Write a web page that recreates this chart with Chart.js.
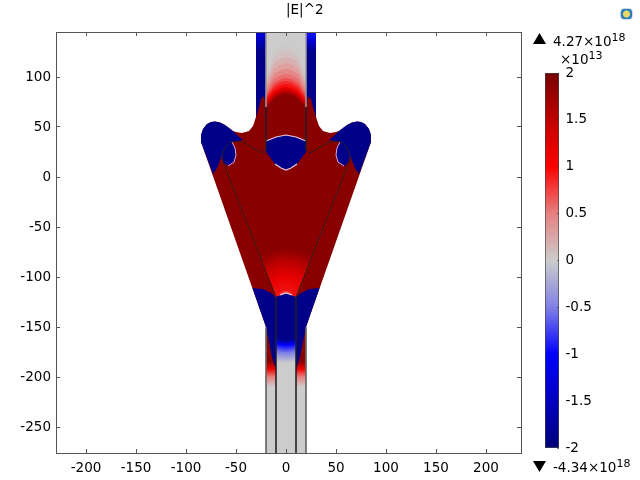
<!DOCTYPE html>
<html>
<head>
<meta charset="utf-8">
<script src="https://cdn.jsdelivr.net/npm/chart.js@4"></script>
<style>
  html, body { margin: 0; padding: 0; background: #fff; overflow: hidden; }
  body { width: 640px; height: 480px; position: relative; font-family: 'DejaVu Sans', sans-serif; font-size: 13.5px; color: #000; }
  canvas { position: absolute; }
  .txt { position: absolute; white-space: nowrap; line-height: 16px; }
  .txt sup { font-size: 11px; line-height: 0; vertical-align: 5px; }
  .tri { position: absolute; width: 13px; height: 11px; background: #000; }
  #icon { position: absolute; left: 620px; top: 8px; width: 13px; height: 12px; border-radius: 4px; border: 1px solid #cfd8e4; box-sizing: border-box;
          background: radial-gradient(circle at 50% 50%, #e6d860 0 3px, #2f86c6 4px, #1a5f9e 7px); }
</style>
</head>
<body>
<canvas id="field" width="640" height="480" style="left:0;top:0"></canvas>
<canvas id="bar" width="115" height="420" style="left:525px;top:50px"></canvas>
<div class="txt" style="left:286px;top:1px">|E|^2</div>
<div class="tri" style="left:533px;top:33px;clip-path:polygon(50% 0,100% 100%,0 100%)"></div>
<div class="txt" style="left:553px;top:33px">4.27×10<sup>18</sup></div>
<div class="txt" style="left:560px;top:51px">×10<sup>13</sup></div>
<div class="tri" style="left:533px;top:461px;clip-path:polygon(0 0,100% 0,50% 100%)"></div>
<div class="txt" style="left:553px;top:459px">-4.34×10<sup>18</sup></div>
<div id="icon"></div>
<script>
const xTicks = [-200, -150, -100, -50, 0, 50, 100, 150, 200];
const yTicks = [100, 50, 0, -50, -100, -150, -200, -250];
const barTicks = [2, 1.5, 1, 0.5, 0, -0.5, -1, -1.5, -2];
const barRange = [-2, 2];

// region outlines, [x, y] in plot units
const topStripL = [[-30, 145], [-20, 145], [-20, 50], [-30, 50]];
const topStripR = [[20, 145], [30, 145], [30, 50], [20, 50]];
const topChannel = [[-20, 145], [20, 145], [20, 45], [-20, 45]];
const body = [[-20, 45], [-20, 70], [-22, 81], [-25, 78], [-27, 70], [-30, 60], [-33, 51], [-37, 46], [-44, 44], [-50, 45],
  [-53, 46], [-61, 52], [-66, 54.5], [-71, 55.5], [-75, 55], [-79, 53], [-83, 48], [-85, 42], [-85, 35], [-20, -150], [20, -150], [85, 35], [85, 42],
  [83, 48], [79, 53], [75, 55], [71, 55.5], [66, 54.5], [61, 52], [53, 46], [50, 45], [44, 44], [37, 46], [33, 51], [30, 60], [27, 70], [25, 78], [22, 81], [20, 70], [20, 45]];
const funnelGlow = [[-31, -65], [31, -65], [10, -120], [0, -116], [-10, -120]];
const lobeL = [[-85, 35], [-85, 42], [-83, 48], [-79, 53], [-75, 55], [-71, 55.5], [-66, 54.5], [-61, 52], [-53, 46], [-48, 41], [-43, 37],
  [-51, 35.5], [-56, 35], [-60, 31], [-63, 25], [-65, 19], [-69, 9], [-73, 3]];
const lobeR = [[85, 35], [85, 42], [83, 48], [79, 53], [75, 55], [71, 55.5], [66, 54.5], [61, 52], [53, 46], [48, 41], [43, 37],
  [51, 35.5], [56, 35], [60, 31], [63, 25], [65, 19], [69, 9], [73, 3]];
const kidneyL = [[-54, 35], [-51, 29], [-50, 22], [-52, 15], [-58, 11], [-62, 14], [-64, 19], [-63, 25], [-60, 31], [-56, 35]];
const kidneyR = [[54, 35], [51, 29], [50, 22], [52, 15], [58, 11], [62, 14], [64, 19], [63, 25], [60, 31], [56, 35]];
const blob = [[-20, 36], [-10, 40], [0, 42], [10, 40], [20, 36], [20, 25], [11, 13], [5, 9], [0, 7], [-5, 9], [-11, 13], [-20, 25]];
const lowStripL = [[-20, -150], [-10, -150], [-10, -276], [-20, -276]];
const lowStripR = [[10, -150], [20, -150], [20, -276], [10, -276]];
const lowChannel = [[-10, -120], [-5, -118], [0, -116], [5, -118], [10, -120], [10, -276], [-10, -276]];
const wingL = [[-33.5, -111], [-23, -112], [-15, -116], [-10, -120], [-10, -193], [-14, -180], [-20, -150]];
const wingR = [[33.5, -111], [23, -112], [15, -116], [10, -120], [10, -193], [14, -180], [20, -150]];

// red dome in the top channel, one contour per entry: y at x=0, x=5, x=12 and at the wall x=20
const domeAt0 = [132, 126, 120, 114, 108, 103, 99, 96, 93, 90, 87, 85, 83];
const domeAt5 = [131, 125, 119, 113, 107, 102, 98, 95, 92, 89, 86, 84, 82];
const domeAt12 = [126, 120, 114, 108, 103, 98, 94, 91, 88, 85, 82, 80, 78];
const domeAtWall = [100, 97, 94, 91, 88, 85, 82, 80, 78, 76, 73, 71, 69];
const domeColors = ['#cec9c9', '#d2c0c0', '#d8b0b0', '#e0a0a0', '#e48888', '#e87070', '#ee5050', '#f42c2c', '#f61010', '#e00000', '#bc0000', '#a00000', '#880000'];

const edgeTopL = [[-20, 145], [-20, 70]];
const edgeTopR = [[20, 145], [20, 70]];
const edgeLowL = [[-20, -150], [-20, -276]];
const edgeLowR = [[20, -150], [20, -276]];
const wireL = [[-20, 70], [-20, 27], [-24, 24], [-43, 35], [-51, 35.5], [-56, 35], [-60, 31], [-63, 25], [-64, 19], [-63, 15], [-10, -120], [-10, -276]];
const wireR = [[20, 70], [20, 27], [24, 24], [43, 35], [51, 35.5], [56, 35], [60, 31], [63, 25], [64, 19], [63, 15], [10, -120], [10, -276]];

const rimTop = [[-20, 36], [-10, 40], [0, 42], [10, 40], [20, 36]];
const rimBlob = [[-11, 13], [-5, 9], [0, 7], [5, 9], [11, 13]];
const rimKidneyL = [[-54, 35], [-51, 29], [-50, 22], [-52, 15], [-58, 11]];
const rimKidneyR = [[54, 35], [51, 29], [50, 22], [52, 15], [58, 11]];
const rimLow = [[-6, -118], [0, -116], [6, -118]];

const navy = '#000088', maroon = '#880000';

function linear(stops) {
  return function (c) {
    const chart = c.chart;
    if (!chart.chartArea) return maroon;
    const y = chart.scales.y;
    const top = y.getPixelForValue(stops[0][0]);
    const bot = y.getPixelForValue(stops[stops.length - 1][0]);
    const g = chart.ctx.createLinearGradient(0, top, 0, bot);
    stops.forEach(s => g.addColorStop((y.getPixelForValue(s[0]) - top) / (bot - top), s[1]));
    return g;
  };
}

function radial(cx, cy, stops) {
  return function (c) {
    const chart = c.chart;
    if (!chart.chartArea) return maroon;
    const x = chart.scales.x, y = chart.scales.y;
    const px = x.getPixelForValue(cx), py = y.getPixelForValue(cy);
    const rMax = stops[stops.length - 1][0];
    const g = chart.ctx.createRadialGradient(px, py, 0, px, py, x.getPixelForValue(cx + rMax) - px);
    stops.forEach(s => g.addColorStop(s[0] / rMax, s[1]));
    return g;
  };
}

const stripBlueL = linear([[145, '#0000e0'], [135, '#0000b4'], [125, navy], [50, navy]]);
const stripBlueR = linear([[145, '#1414ff'], [135, '#0000cc'], [125, navy], [50, navy]]);
const glowFill = radial(0, -122, [[0, '#f0d0d8'], [4, '#f08080'], [9, '#f01010'], [22, '#e80000'], [36, '#c00000'], [46, '#980000'], [52, maroon]]);
const stripRed = linear([[-150, maroon], [-184, maroon], [-192, '#f00000'], [-200, '#e88080'], [-210, '#cccccc'], [-276, '#cccccc']]);
const lowFill = radial(0, -140, [[0, navy], [23, navy], [28, '#0000ff'], [36, '#8080e8'], [46, '#cccccc']]);

function poly(pts, color) {
  return { type: 'scatter', data: pts.map(p => ({ x: p[0], y: p[1] })), showLine: true, fill: 'shape', tension: 0,
    backgroundColor: color, borderWidth: 0, borderColor: 'transparent', pointRadius: 0 };
}
function wire(pts, color, w) {
  return { type: 'scatter', data: pts.map(p => ({ x: p[0], y: p[1] })), showLine: true, fill: false, tension: 0,
    borderColor: color, borderWidth: w, pointRadius: 0 };
}

const domeLayers = domeAt0.map((top, i) => poly([
  [-20, domeAtWall[i]], [-12, domeAt12[i]], [-5, domeAt5[i]], [0, top], [5, domeAt5[i]], [12, domeAt12[i]], [20, domeAtWall[i]], [20, 45], [-20, 45]
], domeColors[i]));

// painted back to front, chart.js draws the first dataset last so reverse it
const layers = [
  poly(topStripL, stripBlueL), poly(topStripR, stripBlueR), poly(topChannel, '#cccccc'),
  ...domeLayers,
  poly(body, maroon), poly(funnelGlow, glowFill),
  poly(lobeL, navy), poly(lobeR, navy), poly(kidneyL, navy), poly(kidneyR, navy), poly(blob, navy),
  poly(lowStripL, stripRed), poly(lowStripR, stripRed), poly(lowChannel, lowFill), poly(wingL, navy), poly(wingR, navy),
  wire(rimTop, '#ecc8dc', 1.2), wire(rimBlob, '#ecc8dc', 1.2), wire(rimKidneyL, '#d8a8d8', 1), wire(rimKidneyR, '#d8a8d8', 1), wire(rimLow, '#f0c8d8', 1.2),
  wire(edgeTopL, '#999999', 0.8), wire(edgeTopR, '#999999', 0.8), wire(edgeLowL, '#666666', 0.9), wire(edgeLowR, '#666666', 0.9),
  wire(wireL, '#222222', 0.8), wire(wireR, '#222222', 0.8)
].reverse();

const tickFont = { family: 'DejaVu Sans', size: 13.5 };

function axis(pos, list, min, max, size, labels, pad) {
  return {
    type: 'linear', position: pos, min: min, max: max,
    afterBuildTicks: s => { s.ticks = list.map(v => ({ value: v })); },
    afterFit: s => { if (pos === 'left' || pos === 'right') s.width = size; else s.height = size; },
    border: { display: true, color: '#555555', width: 1, z: 1 },
    grid: { drawOnChartArea: false, drawTicks: true, tickLength: -4, tickColor: '#555555', z: 1 },
    ticks: { display: labels, color: '#000', font: tickFont, padding: pad, autoSkip: false, maxRotation: 0, callback: v => String(v) }
  };
}

new Chart(document.getElementById('field'), {
  type: 'scatter',
  data: { datasets: layers },
  options: {
    responsive: false, animation: false, devicePixelRatio: 1,
    layout: { padding: { left: 0, top: 32, right: 119, bottom: 0 } },
    plugins: { legend: { display: false }, tooltip: { enabled: false } },
    scales: {
      x: axis('bottom', xTicks, -230, 235, 27, true, 11),
      x2: axis('top', xTicks, -230, 235, 0, false, 0),
      y: axis('left', yTicks, -276, 145, 56, true, 9),
      y2: axis('right', yTicks, -276, 145, 0, false, 0)
    }
  }
});

const barFill = linear([[2, '#780000'], [1.5, '#c00000'], [1, '#ff0000'], [0.5, '#e68080'], [0, '#cccccc'], [-0.5, '#8080e6'], [-1, '#0000ff'], [-1.5, '#0000c0'], [-2, '#000078']]);

new Chart(document.getElementById('bar'), {
  type: 'bar',
  data: { labels: [''], datasets: [{ data: [barRange], backgroundColor: barFill, borderColor: '#444444', borderWidth: 1, borderSkipped: false, barPercentage: 1, categoryPercentage: 1 }] },
  options: {
    responsive: false, animation: false, devicePixelRatio: 1,
    layout: { padding: { left: 20, top: 23, right: 0, bottom: 22 } },
    plugins: { legend: { display: false }, tooltip: { enabled: false } },
    scales: {
      x: { display: false },
      y: {
        type: 'linear', position: 'right', min: barRange[0], max: barRange[1],
        afterBuildTicks: s => { s.ticks = barTicks.map(v => ({ value: v })); },
        afterFit: s => { s.width = 81; },
        border: { display: false },
        grid: { drawOnChartArea: false, drawTicks: true, tickLength: -2, tickColor: 'rgba(40,40,40,0.6)', z: 1 },
        ticks: { color: '#000', font: tickFont, padding: 8.5, autoSkip: false, callback: v => String(v) }
      }
    }
  }
});
</script>
</body>
</html>
